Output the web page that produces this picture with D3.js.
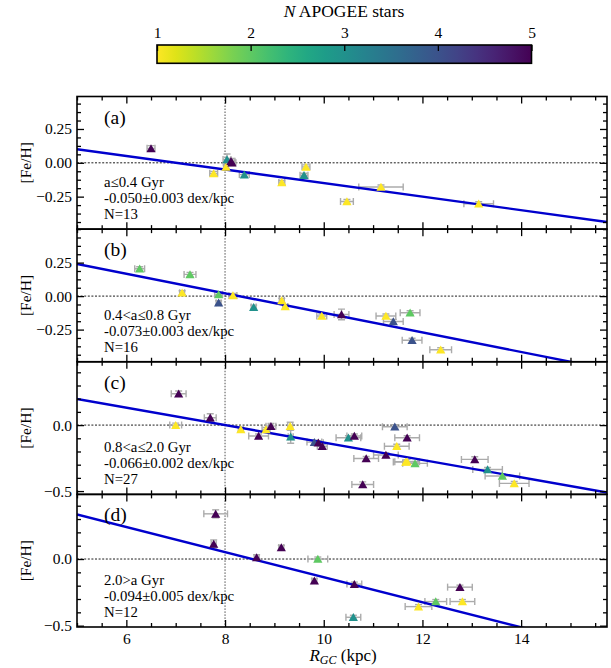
<!DOCTYPE html>
<html><head><meta charset="utf-8">
<script src="https://cdn.jsdelivr.net/npm/d3@7/dist/d3.min.js"></script>
<style>
body{margin:0;background:#fff}
text{font-family:"Liberation Serif","Times New Roman",serif;fill:#000}
</style>
</head><body>
<svg id="chart" width="611" height="668"></svg>
<script>
// ---------------- DATA ----------------
const panelLetters = ["(a)", "(b)", "(c)", "(d)"];
const ageLabels = ["a≤0.4 Gyr", "0.4<a≤0.8 Gyr", "0.8<a≤2.0 Gyr", "2.0>a Gyr"];
const gradLabels = ["-0.050±0.003 dex/kpc", "-0.073±0.003 dex/kpc", "-0.066±0.002 dex/kpc", "-0.094±0.005 dex/kpc"];
const countLabels = ["N=13", "N=16", "N=27", "N=12"];
const fitSlopes = [-0.050, -0.073, -0.066, -0.094];
const fitIntercepts = [0.35, 0.605, 0.528, 0.804];
const yLimits = [[-0.49, 0.49], [-0.49, 0.50], [-0.525, 0.48], [-0.51, 0.485]];
const yMajorTicks = [[-0.25, 0, 0.25], [-0.25, 0, 0.25], [-0.5, 0], [-0.5, 0]];
const xLimits = [5, 15.74];
const xMajorTicks = [6, 8, 10, 12, 14];
const colorbarTicks = [1, 2, 3, 4, 5];

// panel (a)
const rA      = [6.50, 7.77, 8.02, 8.04, 8.12, 8.14, 8.39, 9.15, 9.60, 9.64, 10.47, 11.16, 13.14];
const fehA    = [0.107, -0.078, -0.030, 0.025, 0.012, 0.000, -0.087, -0.146, -0.092, -0.030, -0.286, -0.179, -0.303];
const rErrA   = [0.08, 0.08, 0.05, 0.08, 0.08, 0.08, 0.10, 0.06, 0.08, 0.08, 0.13, 0.45, 0.30];
const fehErrA = [0.02, 0.015, 0.015, 0.04, 0.02, 0.02, 0.015, 0.015, 0.015, 0.015, 0.015, 0.015, 0.015];
const nA      = [5, 1, 1, 3, 5, 5, 3, 1, 3, 1, 1, 1, 1];

// panel (b)
const rB      = [6.27, 7.13, 7.29, 7.87, 7.87, 8.16, 8.58, 9.15, 9.22, 9.96, 10.36, 11.26, 11.41, 11.75, 11.79, 12.37];
const fehB    = [0.204, 0.025, 0.162, 0.013, -0.050, 0.005, -0.082, -0.032, -0.077, -0.149, -0.137, -0.149, -0.189, -0.124, -0.330, -0.400];
const rErrB   = [0.10, 0.05, 0.12, 0.08, 0.05, 0.08, 0.05, 0.05, 0.05, 0.10, 0.15, 0.20, 0.20, 0.20, 0.20, 0.22];
const fehErrB = [0.015, 0.015, 0.015, 0.015, 0.015, 0.015, 0.015, 0.015, 0.015, 0.015, 0.04, 0.015, 0.015, 0.015, 0.015, 0.015];
const nB      = [2, 1, 2, 2, 4, 1, 3, 1, 1, 1, 5, 1, 4, 2, 4, 1];

// panel (c)
const rC      = [7.06, 7.00, 7.70, 8.32, 8.68, 8.83, 8.93, 9.32, 9.33, 9.81, 9.89, 9.97, 10.50, 10.62, 10.86, 10.79, 11.26, 11.48, 11.44, 11.69, 11.66, 11.69, 11.85, 13.06, 13.32, 13.62, 13.86];
const fehC    = [0.238, 0.000, 0.056, -0.033, -0.083, -0.033, -0.008, -0.008, -0.088, -0.129, -0.134, -0.160, -0.096, -0.083, -0.253, -0.450, -0.227, -0.160, -0.012, -0.096, -0.280, -0.277, -0.290, -0.260, -0.336, -0.386, -0.442];
const rErrC   = [0.15, 0.12, 0.12, 0.05, 0.20, 0.08, 0.10, 0.05, 0.05, 0.15, 0.10, 0.10, 0.25, 0.15, 0.25, 0.22, 0.25, 0.25, 0.25, 0.25, 0.25, 0.25, 0.25, 0.27, 0.30, 0.35, 0.30];
const fehErrC = [0.02, 0.015, 0.03, 0.015, 0.015, 0.015, 0.02, 0.03, 0.05, 0.015, 0.015, 0.015, 0.015, 0.015, 0.015, 0.02, 0.015, 0.015, 0.015, 0.015, 0.015, 0.015, 0.015, 0.02, 0.015, 0.015, 0.015];
const nC      = [5, 1, 5, 1, 5, 1, 5, 1, 3, 4, 5, 5, 3, 5, 5, 5, 5, 1, 4, 5, 1, 1, 2, 5, 3, 2, 1];

// panel (d)
const rD      = [7.81, 7.77, 8.64, 9.14, 9.88, 9.81, 10.62, 10.60, 11.92, 12.27, 12.76, 12.81];
const fehD    = [0.339, 0.113, 0.012, 0.087, 0.000, -0.163, -0.188, -0.437, -0.357, -0.319, -0.211, -0.319];
const rErrD   = [0.24, 0.05, 0.05, 0.05, 0.20, 0.05, 0.15, 0.15, 0.27, 0.22, 0.25, 0.25];
const fehErrD = [0.03, 0.03, 0.02, 0.015, 0.015, 0.015, 0.015, 0.015, 0.015, 0.015, 0.015, 0.015];
const nD      = [5, 5, 5, 5, 2, 5, 5, 3, 1, 2, 5, 1];

const panels = [
  {r: rA, feh: fehA, rErr: rErrA, fehErr: fehErrA, n: nA},
  {r: rB, feh: fehB, rErr: rErrB, fehErr: fehErrB, n: nB},
  {r: rC, feh: fehC, rErr: rErrC, fehErr: fehErrC, n: nC},
  {r: rD, feh: fehD, rErr: rErrD, fehErr: fehErrD, n: nD}
];

// ---------------- LAYOUT ----------------
const svg = d3.select("#chart");
const defs = svg.append("defs");
const L = 77, R = 607, T = 96.5, B = 627;
const PH = (B - T) / 4;
const x = d3.scaleLinear().domain(xLimits).range([L, R]);
const color = d3.scaleSequential(t => d3.interpolateViridis(1 - t)).domain([1, 5]);
const greyErr = "#ababab";
const FONT = '"Liberation Serif", serif';

const xMinor = d3.range(5, 15.75, 0.5).filter(v => !xMajorTicks.includes(v));

panels.forEach((p, i) => {
  const top = T + i * PH, bot = top + PH;
  const y = d3.scaleLinear().domain(yLimits[i]).range([bot, top]);
  const g = svg.append("g");
  const clipId = "clip" + i;
  defs.append("clipPath").attr("id", clipId)
    .append("rect").attr("x", L).attr("y", top).attr("width", R - L).attr("height", PH);
  const plot = g.append("g").attr("clip-path", `url(#${clipId})`);

  // reference lines
  plot.append("line").attr("x1", L).attr("x2", R).attr("y1", y(0)).attr("y2", y(0))
    .attr("stroke", "#000").attr("stroke-width", 0.9).attr("stroke-dasharray", "2,1.6");
  plot.append("line").attr("x1", x(8)).attr("x2", x(8)).attr("y1", top).attr("y2", bot)
    .attr("stroke", "#222").attr("stroke-width", 0.8).attr("stroke-dasharray", "1.5,1.5");

  const idx = d3.range(p.r.length);
  // error bars
  const eb = plot.append("g").attr("stroke", greyErr).attr("stroke-width", 1.4).attr("fill", "none");
  idx.forEach(k => {
    const cx = x(p.r[k]), cy = y(p.feh[k]);
    const x0 = x(p.r[k] - p.rErr[k]), x1 = x(p.r[k] + p.rErr[k]);
    const y0 = y(p.feh[k] - p.fehErr[k]), y1 = y(p.feh[k] + p.fehErr[k]);
    eb.append("line").attr("x1", x0).attr("x2", x1).attr("y1", cy).attr("y2", cy);
    eb.append("line").attr("x1", cx).attr("x2", cx).attr("y1", y0).attr("y2", y1);
    eb.append("line").attr("x1", x0).attr("x2", x0).attr("y1", cy - 3.5).attr("y2", cy + 3.5);
    eb.append("line").attr("x1", x1).attr("x2", x1).attr("y1", cy - 3.5).attr("y2", cy + 3.5);
    eb.append("line").attr("x1", cx - 3.5).attr("x2", cx + 3.5).attr("y1", y0).attr("y2", y0);
    eb.append("line").attr("x1", cx - 3.5).attr("x2", cx + 3.5).attr("y1", y1).attr("y2", y1);
  });

  // fit line
  const fit = d3.line().x(d => x(d)).y(d => y(fitIntercepts[i] + fitSlopes[i] * d));
  plot.append("path").datum(xLimits).attr("d", fit)
    .attr("stroke", "#0000cd").attr("stroke-width", 2.4).attr("fill", "none");

  // markers
  const tri = "M0,-4.2L4.6,3.8L-4.6,3.8Z";
  plot.append("g").selectAll("path").data(idx).join("path")
    .attr("d", tri)
    .attr("transform", k => `translate(${x(p.r[k])},${y(p.feh[k])})`)
    .attr("fill", k => color(p.n[k]));

  // axes
  const yMinor = [];
  const step = (i < 2) ? 0.0625 : 0.1;
  for (let v = -0.5; v <= 0.5 + 1e-9; v += step) {
    const vv = Math.round(v * 10000) / 10000;
    if (vv >= yLimits[i][0] && vv <= yLimits[i][1] && !yMajorTicks[i].some(m => Math.abs(m - vv) < 1e-6)) yMinor.push(vv);
  }
  const fmt = d3.format(i < 2 ? ".2f" : ".1f");
  const styleAxis = sel => {
    sel.select(".domain").remove();
    sel.selectAll(".tick line").attr("stroke", "#000").attr("stroke-width", 1.3);
    sel.selectAll(".tick text").attr("font-size", 15.5).attr("font-family", FONT);
  };
  g.append("g").attr("transform", `translate(${L},0)`)
    .call(d3.axisLeft(y).tickValues(yMajorTicks[i]).tickSize(-7).tickPadding(5).tickFormat(fmt)).call(styleAxis);
  g.append("g").attr("transform", `translate(${L},0)`)
    .call(d3.axisLeft(y).tickValues(yMinor).tickSize(-4).tickFormat("")).call(styleAxis);
  g.append("g").attr("transform", `translate(${R},0)`)
    .call(d3.axisRight(y).tickValues(yMajorTicks[i]).tickSize(-7).tickFormat("")).call(styleAxis);
  g.append("g").attr("transform", `translate(${R},0)`)
    .call(d3.axisRight(y).tickValues(yMinor).tickSize(-4).tickFormat("")).call(styleAxis);
  g.append("g").attr("transform", `translate(0,${top})`)
    .call(d3.axisTop(x).tickValues(xMajorTicks).tickSize(-7).tickFormat("")).call(styleAxis);
  g.append("g").attr("transform", `translate(0,${top})`)
    .call(d3.axisTop(x).tickValues(xMinor).tickSize(-4).tickFormat("")).call(styleAxis);
  g.append("g").attr("transform", `translate(0,${bot})`)
    .call(d3.axisBottom(x).tickValues(xMajorTicks).tickSize(-7).tickPadding(6)
      .tickFormat(i === 3 ? d3.format("d") : "")).call(styleAxis);
  g.append("g").attr("transform", `translate(0,${bot})`)
    .call(d3.axisBottom(x).tickValues(xMinor).tickSize(-4).tickFormat("")).call(styleAxis);

  // frame
  g.append("rect").attr("x", L).attr("y", top).attr("width", R - L).attr("height", PH)
    .attr("fill", "none").attr("stroke", "#000").attr("stroke-width", 1.6);

  // texts
  g.append("text").attr("x", 104).attr("y", top + 27).attr("font-size", 19.5).attr("fill", "#222").text(panelLetters[i]);
  [ageLabels[i], gradLabels[i], countLabels[i]].forEach((s, j) => {
    g.append("text").attr("x", 104).attr("y", top + 90.5 + j * 16).attr("font-size", 14.8).attr("fill", "#222").text(s);
  });

  // y label
  g.append("text").attr("transform", `translate(31,${(top + bot) / 2}) rotate(-90)`)
    .attr("text-anchor", "middle").attr("font-size", 15.5).text("[Fe/H]");
});

// x label
const xl = svg.append("text").attr("x", 343).attr("y", 661).attr("text-anchor", "middle").attr("font-size", 17);
xl.append("tspan").attr("font-style", "italic").text("R");
xl.append("tspan").attr("font-style", "italic").attr("font-size", 12).attr("dy", 3).text("GC");
xl.append("tspan").attr("dy", -3).text(" (kpc)");

// ---------------- COLORBAR ----------------
const cbL = 157, cbR = 531.5, cbT = 45, cbB = 63.3;
const cx = d3.scaleLinear().domain([1, 5]).range([cbL, cbR]);
const grad = defs.append("linearGradient").attr("id", "cbgrad");
d3.range(0, 1.0001, 0.05).forEach(t => {
  grad.append("stop").attr("offset", t).attr("stop-color", color(1 + 4 * t));
});
svg.append("rect").attr("x", cbL).attr("y", cbT).attr("width", cbR - cbL).attr("height", cbB - cbT)
  .attr("fill", "url(#cbgrad)");
const cbAxis = svg.append("g").attr("transform", `translate(0,${cbT})`)
  .call(d3.axisTop(cx).tickValues(colorbarTicks).tickSize(-6).tickPadding(7).tickFormat(d3.format("d")));
cbAxis.select(".domain").remove();
cbAxis.selectAll(".tick line").attr("stroke", "#000").attr("stroke-width", 1.3);
cbAxis.selectAll(".tick text").attr("font-size", 15.5).attr("font-family", FONT);
svg.append("rect").attr("x", cbL).attr("y", cbT).attr("width", cbR - cbL).attr("height", cbB - cbT)
  .attr("fill", "none").attr("stroke", "#000").attr("stroke-width", 1.6);
const ct = svg.append("text").attr("x", 344).attr("y", 17).attr("text-anchor", "middle").attr("font-size", 17.5);
ct.append("tspan").attr("font-style", "italic").text("N");
ct.append("tspan").text(" APOGEE stars");
</script>
</body></html>
